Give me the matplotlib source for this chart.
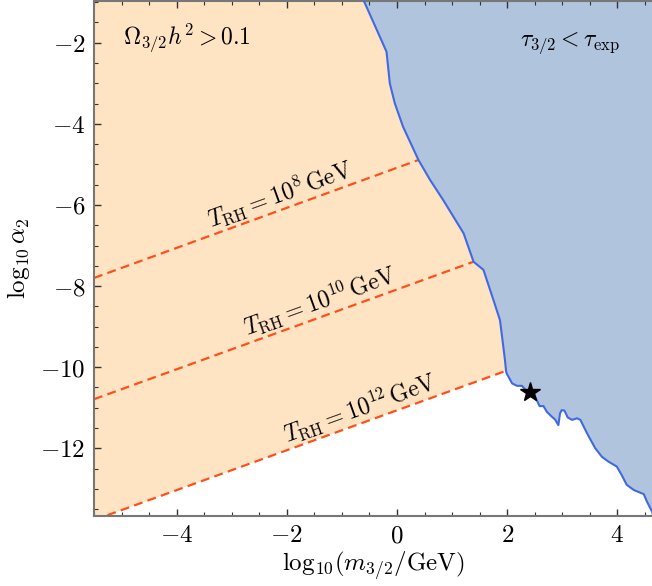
import matplotlib
matplotlib.use("Agg")
import matplotlib.pyplot as plt
import numpy as np

plt.rcParams['mathtext.fontset'] = 'cm'
plt.rcParams['font.family'] = ['DejaVu Serif']

XLIM = (-5.5, 4.65)
YLIM = (-13.67, -0.97)

# tau_{3/2} = tau_exp boundary (blue), from top down
curve_x = [-0.60, -0.19, -0.13, -0.04, 0.11, 0.39, 0.60, 0.84, 1.21, 1.39, 1.57, 1.75,
           1.87, 1.93, 1.96, 1.98, 1.99, 2.09, 2.18, 2.27, 2.33, 2.42, 2.51, 2.59, 2.66,
           2.72, 2.81, 2.87, 2.93, 2.96, 2.99, 3.04, 3.10, 3.18, 3.27, 3.33, 3.45, 3.60,
           3.72, 3.84, 3.99, 4.08, 4.17, 4.30, 4.48, 4.54, 4.63, 4.66]
curve_y = [-0.97, -2.22, -3.00, -3.49, -4.07, -4.89, -5.38, -5.88, -6.70, -7.40, -7.60, -8.34,
           -8.84, -9.49, -9.82, -10.09, -10.15, -10.40, -10.46, -10.46, -10.56, -10.60, -10.74, -10.96, -10.96,
           -11.10, -11.22, -11.29, -11.43, -11.14, -11.06, -11.07, -11.24, -11.30, -11.26, -11.30, -11.63, -12.00,
           -12.21, -12.33, -12.45, -12.66, -12.90, -13.03, -13.13, -13.32, -13.56, -13.70]

# T_RH lines (endpoints)
trh_labels = [r'$T_{\rm RH} = 10^{8}\,{\rm GeV}$',
              r'$T_{\rm RH} = 10^{10}\,{\rm GeV}$',
              r'$T_{\rm RH} = 10^{12}\,{\rm GeV}$']
trh_x = [[-5.5, 0.39], [-5.5, 1.39], [-5.5, 1.98]]
trh_y = [[-7.80, -4.89], [-10.79, -7.40], [-13.77, -10.09]]
trh_label_pos = [(-2.13, -5.72), (-1.40, -8.36), (-0.67, -10.98)]

star_x, star_y = [2.42], [-10.60]

xticks = [-4, -2, 0, 2, 4]
yticks = [-12, -10, -8, -6, -4, -2]

fig = plt.figure(figsize=(6.52, 5.86), dpi=100)
ax = fig.add_axes([94/652, 70/586, 558/652 * 1.002, 515/586])
ax.set_xlim(*XLIM)
ax.set_ylim(*YLIM)

cx = np.array(curve_x); cy = np.array(curve_y)
# blue region: right of the curve
bx = np.concatenate([cx, [XLIM[1] + 1, XLIM[1] + 1, cx[0]]])
by = np.concatenate([cy, [YLIM[0] - 1, YLIM[1] + 1, YLIM[1] + 1]])
ax.fill(bx, by, color='#B0C4DE', lw=0, zorder=1)

# orange region: left of curve, above 10^12 line
k = curve_x.index(trh_x[2][1])
slope3 = (trh_y[2][1] - trh_y[2][0]) / (trh_x[2][1] - trh_x[2][0])
oy_line0 = trh_y[2][0] + slope3 * (XLIM[0] - 1 - trh_x[2][0])
ox = np.concatenate([[XLIM[0] - 1], [trh_x[2][1]], cx[:k + 1][::-1], [cx[0]], [XLIM[0] - 1]])
oy = np.concatenate([[oy_line0], [trh_y[2][1]], cy[:k + 1][::-1], [YLIM[1] + 1], [YLIM[1] + 1]])
ax.fill(ox, oy, color='#FFE4C4', lw=0, zorder=1)

ax.plot(cx, cy, color='#4169E1', lw=1.5, zorder=3)

for xs, ys in zip(trh_x, trh_y):
    ax.plot(xs, ys, color='#FF4F1A', lw=1.6, ls=(0, (4, 2.4)), zorder=2)

# rotation from slope in display coords
fig.canvas.draw()
for lab, (lx, ly), xs, ys in zip(trh_labels, trh_label_pos, trh_x, trh_y):
    p0 = ax.transData.transform((xs[0], ys[0]))
    p1 = ax.transData.transform((xs[1], ys[1]))
    ang = np.degrees(np.arctan2(p1[1] - p0[1], p1[0] - p0[0]))
    ax.text(lx, ly, lab, rotation=ang, rotation_mode='anchor', ha='center', va='center',
            fontsize=17, zorder=4)

ax.plot(star_x, star_y, marker='*', color='black', ms=15, ls='none', zorder=5)

ax.text(-4.98, -1.86, r'$\Omega_{3/2}h^2 > 0.1$', fontsize=17, ha='left', va='center')
ax.text(2.24, -2.02, r'$\tau_{3/2} < \tau_{\rm exp}$', fontsize=17, ha='left', va='center')

ax.set_xticks(xticks)
ax.set_xticklabels([r'$%d$' % t for t in xticks])
ax.set_yticks(yticks)
ax.set_yticklabels([r'$%d$' % t for t in yticks])
ax.set_xticks(np.arange(-5.5, 4.7, 0.5), minor=True)
ax.set_yticks(np.arange(-13.5, -0.9, 0.5), minor=True)
ax.tick_params(which='both', direction='in', top=True, right=False, color='#333333')
ax.tick_params(which='major', length=5, width=1.0, labelsize=18, pad=6)
ax.tick_params(which='minor', length=3, width=0.8)

for s in ['left', 'bottom', 'top']:
    ax.spines[s].set_color('#777777')
    ax.spines[s].set_linewidth(1.5)
ax.spines['right'].set_visible(False)

ax.set_xlabel(r'$\mathrm{log}_{10}(m_{3/2}/{\rm GeV})$', fontsize=18, labelpad=2)
ax.set_ylabel(r'$\mathrm{log}_{10}\,\alpha_2$', fontsize=18, labelpad=6)

fig.savefig('out.png', dpi=100)
